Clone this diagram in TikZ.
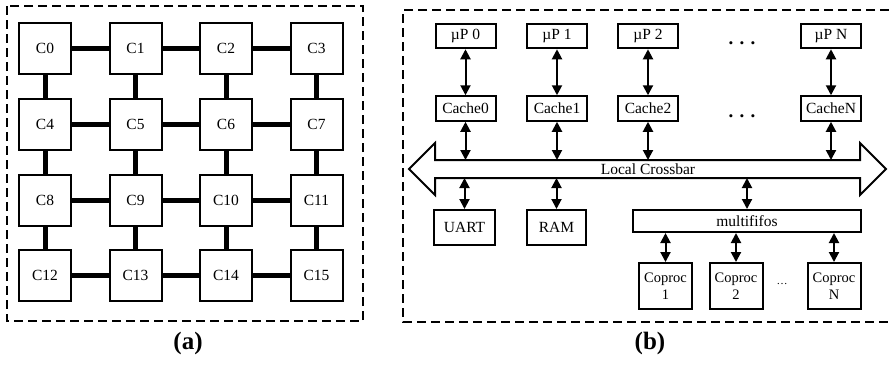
\documentclass[tikz,border=0pt]{standalone}
\usepackage{fontspec}
\setmainfont{Liberation Serif}
\usetikzlibrary{arrows.meta}
\begin{document}
\begin{tikzpicture}[x=1pt,y=-1pt,
  core/.style={draw,line width=2pt,minimum width=52pt,minimum height=51pt,inner sep=0pt,font=\fontsize{15.5}{18}\selectfont},
  unit/.style={draw,line width=2pt,inner sep=0pt,font=\fontsize{15.5}{18}\selectfont},
  proc/.style={minimum width=60pt,minimum height=24.5pt},
  link/.style={line width=5pt},
  bus/.style={line width=2pt,{Triangle[width=10pt,length=10pt]}-{Triangle[width=10pt,length=10pt]}},
  outline/.style={line width=2pt,dash pattern=on 9pt off 5pt},
  caption/.style={font=\fontsize{25}{30}\selectfont\bfseries}]
\useasboundingbox (0,0) rectangle (889,365);
% (a) mesh
\draw[outline] (7,6) rectangle (363,321);
\foreach \r in {0,...,3}
  \foreach \c in {0,...,3}{
    \pgfmathtruncatemacro\n{4*\r+\c}
    \node[core] (C\n) at ({45+90.5*\c},{48.5+75.8*\r}) {C\n};
  }
\foreach \r in {0,...,3}
  \foreach \c in {0,1,2}{
    \pgfmathtruncatemacro\a{4*\r+\c}
    \pgfmathtruncatemacro\b{\a+1}
    \draw[link] (C\a) -- (C\b);
  }
\foreach \r in {0,1,2}
  \foreach \c in {0,...,3}{
    \pgfmathtruncatemacro\a{4*\r+\c}
    \pgfmathtruncatemacro\b{\a+4}
    \draw[link] (C\a) -- (C\b);
  }
\node[caption] (capA) at (188,343) {(a)};
% (b) crossbar
\draw[outline] (889,10) -| (403,322) -- (889,322);
\coordinate (xbarN) at (648,160);
\coordinate (xbarS) at (648,178);
\draw[line width=2pt] (409,169) -- (435,143) -- (435,160) -- (860,160) -- (860,143)
  -- (886,169) -- (860,195) -- (860,178) -- (435,178) -- (435,195) -- cycle;
\node[font=\fontsize{15.5}{18}\selectfont] (xbar) at (648,169) {Local Crossbar};
\foreach \x/\i in {465.5/0,557/1,648/2,831/N}{
  \node[unit,proc] (P\i) at (\x,36) {µP \i};
  \node[unit,proc] (K\i) at (\x,108.5) {Cache\i};
  \draw[bus] (P\i) -- (K\i);
  \draw[bus] (K\i) -- (K\i |- xbarN);
}
\node[font=\fontsize{19}{20}\selectfont\bfseries] (dotsP) at (742,43) {. . .};
\node[font=\fontsize{19}{20}\selectfont\bfseries] (dotsK) at (742,116) {. . .};
\node[unit,minimum width=61pt,minimum height=35pt] (uart) at (464.5,227.5) {UART};
\node[unit,minimum width=59pt,minimum height=35pt] (ram) at (556.5,227.5) {RAM};
\node[unit,minimum width=228pt,minimum height=22pt] (fifo) at (747,221) {multififos};
\draw[bus] (uart) -- (uart |- xbarS);
\draw[bus] (ram) -- (ram |- xbarS);
\draw[bus] (fifo) -- (fifo |- xbarS);
\foreach \x/\i in {665.5/1,736/2,834/N}{
  \node[unit,minimum width=53pt,minimum height=46pt,align=center,font=\fontsize{14.5}{17}\selectfont] (cp\i) at (\x,286) {Coproc\\\i};
  \draw[bus] (cp\i) -- (cp\i |- fifo.south);
}
\node[font=\fontsize{11}{12}\selectfont] (dotsC) at (782,284) {…};
\node[caption] (capB) at (650,343) {(b)};
\end{tikzpicture}
\end{document}
